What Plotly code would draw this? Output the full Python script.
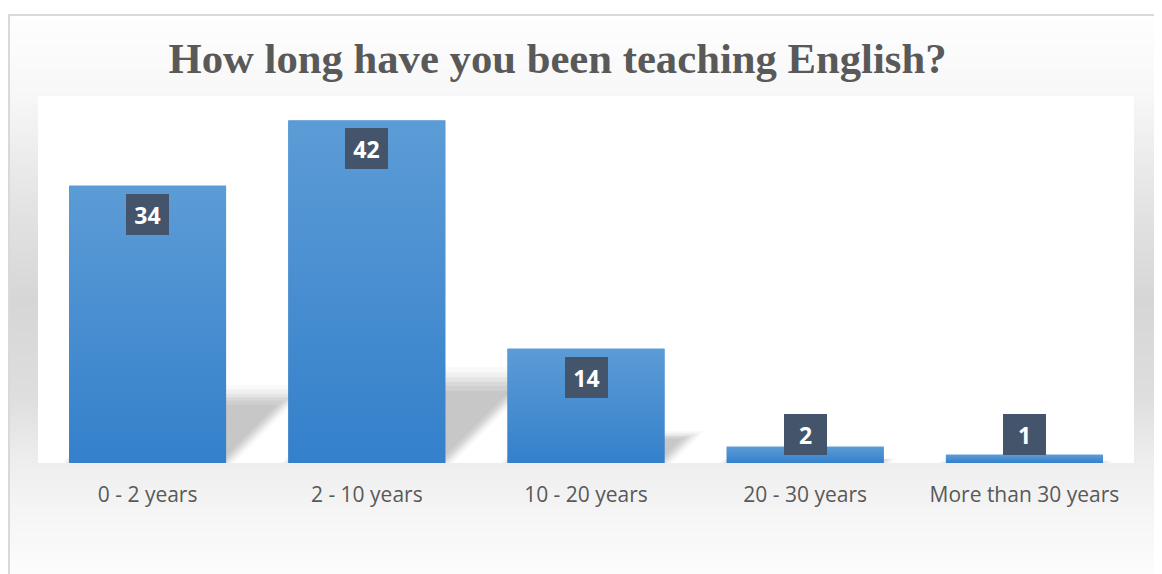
import plotly.graph_objects as go

# ---- data ----
categories = ["0 - 2 years", "2 - 10 years", "10 - 20 years", "20 - 30 years", "More than 30 years"]
values = [34, 42, 14, 2, 1]
title_text = "How long have you been teaching English?"

# ---- layout constants (pixels, page coordinates of the reference) ----
OFF = 8                 # default page body margin offsets the figure
W, H = 1162 + OFF, 574
PL, PR, PT, PB = 38, 1134, 96, 463      # plot area in page pixels
ML = PL - OFF
MT = PT - OFF
MR = W - (PR - OFF)
MB = H - (PB - OFF)
PW, PH = PR - PL, PB - PT
YMAX = 45
BAR_W = 0.716
xpx = 5.0 / PW          # x units per pixel
ypx = YMAX / PH         # y units per pixel

BAR_TOP = "#5C9CD6"
BAR_BOT = "#3480CB"
LABEL_BG = "#44546A"
TEXT_GRAY = "#595959"

xs = list(range(len(categories)))

fig = go.Figure()

# main bars
fig.add_trace(go.Bar(
    x=xs, y=values, width=BAR_W,
    marker=dict(color=BAR_BOT, line=dict(width=0)),
    hoverinfo="x+y", showlegend=False,
))

# gradient overlay for each bar (computed from the values)
for i, v in zip(xs, values):
    x0, x1 = i - BAR_W / 2, i + BAR_W / 2
    fig.add_trace(go.Scatter(
        x=[x0, x1, x1, x0, x0], y=[0, 0, v, v, 0],
        mode="lines", line=dict(width=0), fill="toself",
        fillgradient=dict(type="vertical",
                          colorscale=[[0, BAR_BOT], [1, BAR_TOP]]),
        hoverinfo="skip", showlegend=False,
    ))

shapes = []

# page pixel -> paper coordinates
def to_px_x(px):
    return (px - PL) / PW

def to_px_y(py):
    return (PB - py) / PH

stops = [(16, 254), (96, 247), (200, 228), (300, 214), (400, 222), (463, 238), (520, 246), (574, 252)]

def level_at(y):
    for (y0, l0), (y1, l1) in zip(stops[:-1], stops[1:]):
        if y0 <= y <= y1:
            t = (y - y0) / (y1 - y0)
            return l0 + (l1 - l0) * t
    return stops[-1][1]

step = 4
y = 16
while y < H + OFF:
    lv = int(round(level_at(min(y + step / 2, 574))))
    shapes.append(dict(type="rect", xref="paper", yref="paper",
                       x0=to_px_x(10), x1=to_px_x(W + 20),
                       y0=to_px_y(y), y1=to_px_y(y + step + 0.5),
                       fillcolor=f"rgb({lv},{lv},{lv})", line=dict(width=0),
                       layer="below"))
    y += step

# white plot area on top of strips
shapes.append(dict(type="rect", xref="paper", yref="paper", x0=0, x1=1, y0=0, y1=1,
                   fillcolor="white", line=dict(width=0), layer="below"))

# border lines (left and top)
shapes.append(dict(type="line", xref="paper", yref="paper",
                   x0=to_px_x(9), x1=to_px_x(9), y0=to_px_y(14), y1=to_px_y(H + 20),
                   line=dict(color="#D9D9D9", width=2), layer="below"))
shapes.append(dict(type="line", xref="paper", yref="paper",
                   x0=to_px_x(8), x1=to_px_x(W + 20), y0=to_px_y(15), y1=to_px_y(15),
                   line=dict(color="#D9D9D9", width=2), layer="below"))

# soft perspective shadows behind bars
layers = [(1.12, 8, 0.025), (1.06, 5, 0.035), (1.0, 2, 0.045),
          (0.95, -1, 0.05), (0.9, -4, 0.045), (0.84, -7, 0.035)]
for i, v in zip(xs, values):
    x0, x1 = i - BAR_W / 2, i + BAR_W / 2
    for hs, off, a in layers:
        hh = 0.25 * v * hs
        dx = (hh / ypx) * xpx
        o = off * xpx
        path = (f"M {x0 + o},0 L {x1 + o},0 L {x1 + o + dx},{hh} "
                f"L {x0 + o + dx},{hh} Z")
        shapes.append(dict(type="path", xref="x", yref="y", path=path,
                           fillcolor=f"rgba(0,0,0,{a})", line=dict(width=0),
                           layer="below"))

# data labels in dark boxes
annotations = []
BOX_W, BOX_H, GAP = 43, 41, 8
for i, v in zip(xs, values):
    bar_px = v / ypx
    if bar_px >= BOX_H + 2 * GAP:
        yy, anchor, shift = v, "top", -GAP
    else:
        yy, anchor, shift = 0, "bottom", GAP
    annotations.append(dict(
        x=i, y=yy, xref="x", yref="y", text=f"<b>{v}</b>", showarrow=False,
        xanchor="center", yanchor=anchor, yshift=shift,
        width=BOX_W, height=BOX_H, bgcolor=LABEL_BG, borderpad=0, borderwidth=0,
        font=dict(family="Open Sans", size=23, color="white"), valign="middle",
    ))

fig.update_layout(
    width=W, height=H, autosize=False,
    margin=dict(l=ML, r=MR, t=MT, b=MB, pad=0),
    paper_bgcolor="white", plot_bgcolor="white",
    title=dict(text=f"<b>{title_text}</b>", x=(557.5 - OFF) / W, xanchor="center",
               xref="container", y=1 - (58.5 - OFF) / H, yanchor="middle", yref="container",
               font=dict(family="Liberation Serif", size=42.7, color=TEXT_GRAY)),
    xaxis=dict(range=[-0.5, 4.5], tickvals=xs, ticktext=categories,
               showgrid=False, zeroline=False, showline=False, ticks="",
               ticklabelstandoff=17, fixedrange=True,
               tickfont=dict(family="Open Sans", size=21, color=TEXT_GRAY)),
    yaxis=dict(range=[0, YMAX], visible=False, showgrid=False, zeroline=False,
               fixedrange=True),
    shapes=shapes, annotations=annotations, showlegend=False,
    bargap=0.284,
)

fig.write_html("out.html")
